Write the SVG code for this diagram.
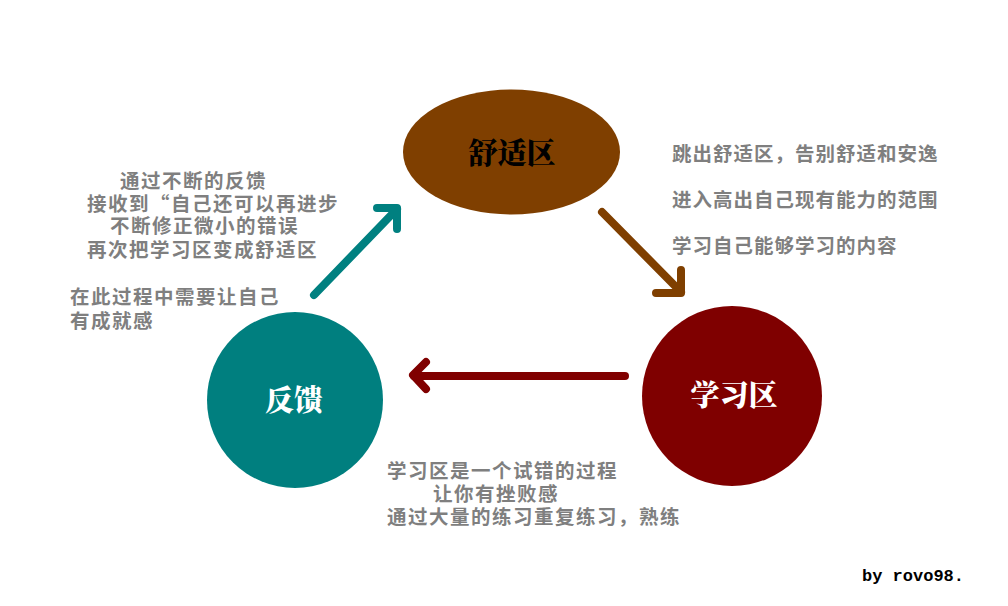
<svg xmlns="http://www.w3.org/2000/svg" width="1008" height="606" viewBox="0 0 1008 606">
<style>
.title{font-family:"Noto Serif CJK SC","Noto Sans CJK SC",serif;font-weight:900;font-size:29px;text-anchor:middle;dominant-baseline:central}
.note{font-family:"Noto Sans CJK SC","Noto Sans CJK JP",sans-serif;font-weight:700;font-size:19.5px;fill:#7f7f7f;letter-spacing:1px}
.wide{letter-spacing:1.5px}
.arr{fill:none;stroke-width:8;stroke-linecap:round;stroke-linejoin:round}
</style>
<rect width="1008" height="606" fill="#ffffff"/>
<g id="connectors">
  <g id="arrow-feedback-comfort" class="arr" stroke="#008080">
    <line x1="314" y1="295" x2="397" y2="209"/>
    <polyline points="377,208 397,208 397,229"/>
  </g>
  <g id="arrow-comfort-learning" class="arr" stroke="#7f3f00">
    <line x1="602" y1="212" x2="681" y2="292"/>
    <polyline points="656,293 681,293 681,270"/>
  </g>
  <g id="arrow-learning-feedback" class="arr" stroke="#800000">
    <line x1="625" y1="376" x2="414" y2="376"/>
    <polyline points="426,362 413,375 426,389"/>
  </g>
</g>
<g id="node-comfort">
  <ellipse cx="511.5" cy="152" rx="108.5" ry="62.5" fill="#7f3f00"/>
  <text class="title" x="512" y="151" fill="#000000" font-size="30">舒适区</text>
</g>
<g id="node-feedback">
  <circle cx="295" cy="400" r="88" fill="#007f7f"/>
  <text class="title" x="294" y="398" fill="#ffffff">反馈</text>
</g>
<g id="node-learning">
  <circle cx="732" cy="396" r="90" fill="#7f0000"/>
  <text class="title" x="734" y="393" fill="#ffffff">学习区</text>
</g>
<g id="notes-feedback">
  <text class="note wide" x="120" y="188">通过不断的反馈</text>
  <text class="note wide" x="87" y="211">接收到“自己还可以再进步</text>
  <text class="note wide" x="110" y="233">不断修正微小的错误</text>
  <text class="note wide" x="87" y="257">再次把学习区变成舒适区</text>
  <text class="note wide" x="70" y="304">在此过程中需要让自己</text>
  <text class="note wide" x="70" y="328">有成就感</text>
</g>
<g id="notes-comfort">
  <text class="note" x="672" y="161">跳出舒适区，告别舒适和安逸</text>
  <text class="note" x="672" y="207">进入高出自己现有能力的范围</text>
  <text class="note" x="672" y="253">学习自己能够学习的内容</text>
</g>
<g id="notes-learning">
  <text class="note wide" x="387" y="478">学习区是一个试错的过程</text>
  <text class="note wide" x="433" y="501">让你有挫败感</text>
  <text class="note wide" x="387" y="524">通过大量的练习重复练习，熟练</text>
</g>
<text x="862" y="581" font-family="'Liberation Mono',monospace" font-weight="700" font-size="17" fill="#000000">by rovo98.</text>
</svg>
